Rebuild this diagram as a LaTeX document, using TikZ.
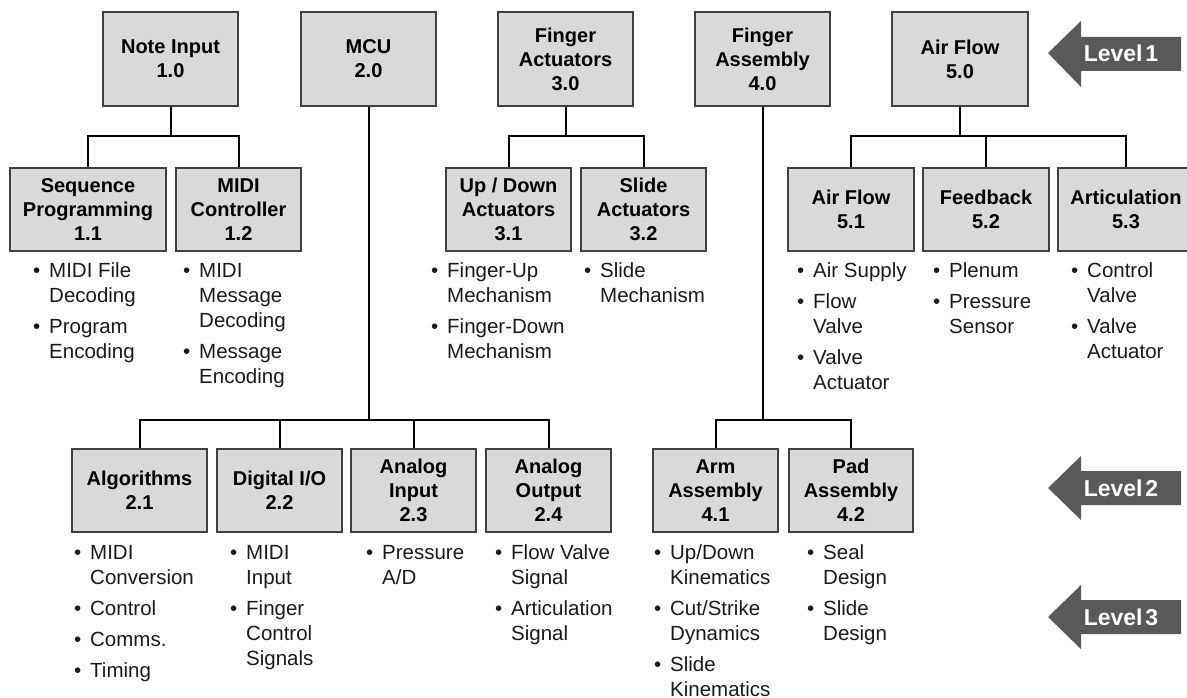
\documentclass[tikz,border=0pt]{standalone}
\usepackage{fontspec}
\setmainfont{Liberation Sans}
\definecolor{boxfill}{HTML}{D9D9D9}
\definecolor{boxline}{HTML}{404040}
\definecolor{lvlgray}{HTML}{595959}
\definecolor{txt}{HTML}{1A1A1A}
\newcommand{\bl}{\strut\llap{\makebox[16pt][l]{•}}}
\tikzset{
  box/.style={draw=boxline, fill=boxfill, line width=1.4pt, align=center, inner sep=0pt,
    font=\fontsize{20}{24}\selectfont\bfseries},
  topbox/.style={box, minimum width=135pt, minimum height=94pt},
  midbox/.style={box, minimum height=83pt},
  conn/.style={line width=2pt, black},
  blist/.style={anchor=north west, align=left, inner sep=0pt, text=txt,
    font=\fontsize{20.5}{25}\selectfont},
  lvltext/.style={text=white, font=\fontsize{23}{26}\selectfont\bfseries, inner sep=0pt},
  lvlarrow/.style={fill=lvlgray}
}
\begin{document}
\begin{tikzpicture}[x=1pt,y=-1pt]
\useasboundingbox (0,0) rectangle (1187,698);
% Level 1 boxes
\node[topbox] (n1) at (170.5,59) {Note Input\\1.0};
\node[topbox] (n2) at (368.5,59) {MCU\\2.0};
\node[topbox] (n3) at (565.5,59) {Finger\\Actuators\\3.0};
\node[topbox] (n4) at (762.5,59) {Finger\\Assembly\\4.0};
\node[topbox, minimum width=136pt] (n5) at (960,59) {Air Flow\\5.0};
% Level 2 boxes (upper row)
\node[midbox, minimum width=156pt] (n11) at (88,209.5) {Sequence\\Programming\\1.1};
\node[midbox, minimum width=125pt] (n12) at (238.5,209.5) {MIDI\\Controller\\1.2};
\node[midbox, minimum width=125pt] (n31) at (508.5,209.5) {Up / Down\\Actuators\\3.1};
\node[midbox, minimum width=125pt] (n32) at (643.5,209.5) {Slide\\Actuators\\3.2};
\node[midbox, minimum width=126pt] (n51) at (851,209.5) {Air Flow\\5.1};
\node[midbox, minimum width=126pt] (n52) at (986,209.5) {Feedback\\5.2};
\node[midbox, minimum width=136pt] (n53) at (1126,209.5) {Articulation\\5.3};
% Level 2 boxes (lower row)
\node[midbox, minimum width=135pt] (n21) at (139.5,490.5) {Algorithms\\2.1};
\node[midbox, minimum width=125pt] (n22) at (279.5,490.5) {Digital I/O\\2.2};
\node[midbox, minimum width=125pt] (n23) at (413.5,490.5) {Analog\\Input\\2.3};
\node[midbox, minimum width=125pt] (n24) at (548.5,490.5) {Analog\\Output\\2.4};
\node[midbox, minimum width=125pt] (n41) at (715.5,490.5) {Arm\\Assembly\\4.1};
\node[midbox, minimum width=124pt] (n42) at (851,490.5) {Pad\\Assembly\\4.2};
% connectors
\coordinate (b1) at (170.5,136);
\coordinate (b3) at (565.5,136);
\coordinate (b5) at (960,136);
\coordinate (b2) at (368.5,420);
\coordinate (b4) at (762.5,420);
\draw[conn] (n1.south) -- (b1) -| (n11.north);
\draw[conn] (b1) -| (n12.north);
\draw[conn] (n3.south) -- (b3) -| (n31.north);
\draw[conn] (b3) -| (n32.north);
\draw[conn] (n5.south) -- (b5) -| (n51.north);
\draw[conn] (b5) -| (n52.north);
\draw[conn] (b5) -| (n53.north);
\draw[conn] (n2.south) -- (b2) -| (n21.north);
\draw[conn] (b2) -| (n22.north);
\draw[conn] (b2) -| (n23.north);
\draw[conn] (b2) -| (n24.north);
\draw[conn] (n4.south) -- (b4) -| (n41.north);
\draw[conn] (b4) -| (n42.north);
% Level 3 lists (upper)
\node[blist] (l11) at (49,259.5) {\bl MIDI File\\Decoding\\[6pt]\bl Program\\Encoding};
\node[blist] (l12) at (199,259.5) {\bl MIDI\\Message\\Decoding\\[6pt]\bl Message\\Encoding};
\node[blist] (l31) at (447,259.5) {\bl Finger-Up\\Mechanism\\[6pt]\bl Finger-Down\\Mechanism};
\node[blist] (l32) at (600,259.5) {\bl Slide\\Mechanism};
\node[blist] (l51) at (813,259.5) {\bl Air Supply\\[6pt]\bl Flow\\Valve\\[6pt]\bl Valve\\Actuator};
\node[blist] (l52) at (949,259.5) {\bl Plenum\\[6pt]\bl Pressure\\Sensor};
\node[blist] (l53) at (1087,259.5) {\bl Control\\Valve\\[6pt]\bl Valve\\Actuator};
% Level 3 lists (lower)
\node[blist] (l21) at (90,541.5) {\bl MIDI\\Conversion\\[6pt]\bl Control\\[6pt]\bl Comms.\\[6pt]\bl Timing};
\node[blist] (l22) at (246,541.5) {\bl MIDI\\Input\\[6pt]\bl Finger\\Control\\Signals};
\node[blist] (l23) at (382,541.5) {\bl Pressure\\A/D};
\node[blist] (l24) at (511,541.5) {\bl Flow Valve\\Signal\\[6pt]\bl Articulation\\Signal};
\node[blist] (l41) at (670,541.5) {\bl Up/Down\\Kinematics\\[6pt]\bl Cut/Strike\\Dynamics\\[6pt]\bl Slide\\Kinematics};
\node[blist] (l42) at (823,541.5) {\bl Seal\\Design\\[6pt]\bl Slide\\Design};
% Level arrows
\fill[lvlarrow] (1048,53) -- (1081,21) -- (1081,37) -- (1181,37) -- (1181,71) -- (1081,71) -- (1081,87) -- cycle;
\node[lvltext] (lv1) at (1121,53) {Level\hspace{0.12em}1};
\fill[lvlarrow] (1048,488) -- (1081,456) -- (1081,471) -- (1181,471) -- (1181,505) -- (1081,505) -- (1081,520) -- cycle;
\node[lvltext] (lv2) at (1121,488) {Level\hspace{0.12em}2};
\fill[lvlarrow] (1048,617) -- (1081,585) -- (1081,600) -- (1181,600) -- (1181,634) -- (1081,634) -- (1081,649) -- cycle;
\node[lvltext] (lv3) at (1121,617) {Level\hspace{0.12em}3};
\end{tikzpicture}
\end{document}
